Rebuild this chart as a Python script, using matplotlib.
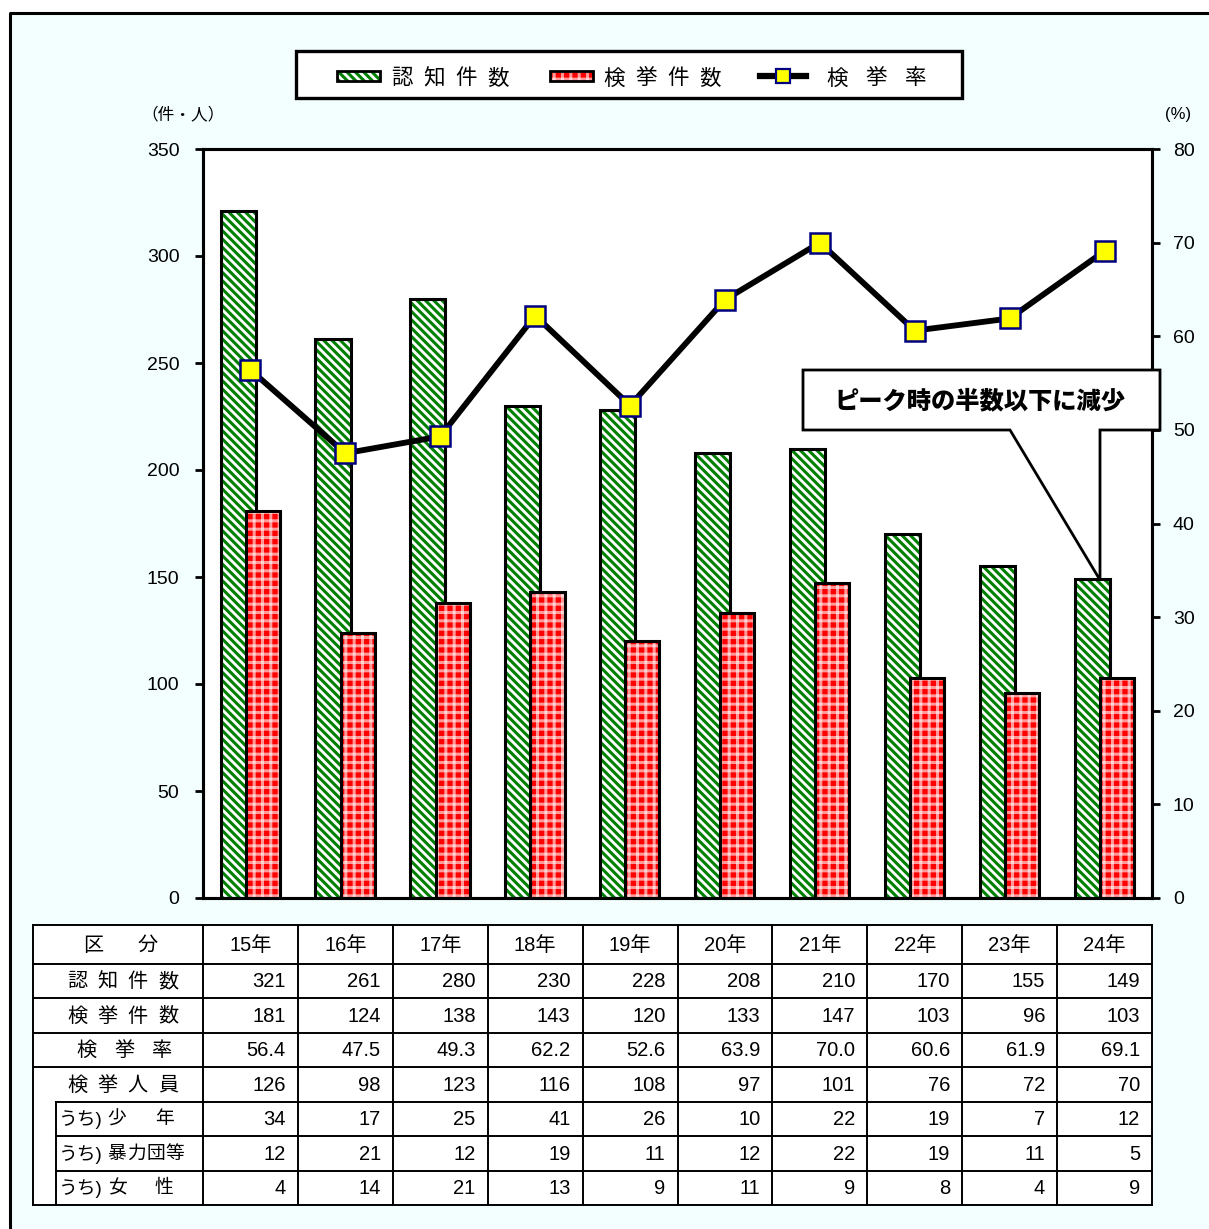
import matplotlib
matplotlib.use("Agg")
import matplotlib.pyplot as plt
from matplotlib.patches import Rectangle, Polygon
from matplotlib.lines import Line2D
import numpy as np

plt.rcParams['font.family'] = ['Liberation Sans', 'Noto Sans CJK JP', 'DejaVu Sans']
plt.rcParams['hatch.linewidth'] = 2.2

# ---------------- data ----------------
years = ["15年", "16年", "17年", "18年", "19年", "20年", "21年", "22年", "23年", "24年"]
ninchi = [321, 261, 280, 230, 228, 208, 210, 170, 155, 149]      # 認知件数
kenkyo = [181, 124, 138, 143, 120, 133, 147, 103, 96, 103]       # 検挙件数
ritsu = [56.4, 47.5, 49.3, 62.2, 52.6, 63.9, 70.0, 60.6, 61.9, 69.1]  # 検挙率
jinin = [126, 98, 123, 116, 108, 97, 101, 76, 72, 70]            # 検挙人員
shonen = [34, 17, 25, 41, 26, 10, 22, 19, 7, 12]                 # うち少年
boryoku = [12, 21, 12, 19, 11, 12, 22, 19, 11, 5]                # うち暴力団等
josei = [4, 14, 21, 13, 9, 11, 9, 8, 4, 9]                       # うち女性
left_ticks = [0, 50, 100, 150, 200, 250, 300, 350]
right_ticks = [0, 10, 20, 30, 40, 50, 60, 70, 80]

main_labels = ["認知件数", "検挙件数", "検挙率", "検挙人員"]
sub_labels = [("少", "年"), ("暴力団等", None), ("女", "性")]
row_values = [[str(v) for v in ninchi], [str(v) for v in kenkyo],
              [f"{v:.1f}" for v in ritsu], [str(v) for v in jinin],
              [str(v) for v in shonen], [str(v) for v in boryoku], [str(v) for v in josei]]

W, H = 1209, 1229
fig = plt.figure(figsize=(W / 100, H / 100), dpi=100, facecolor='white')

# background panel with border
bg = fig.add_axes([0, 0, 1, 1], zorder=0)
bg.set_xlim(0, W); bg.set_ylim(H, 0); bg.axis('off')
bg.add_patch(Rectangle((10, 13), W, H, facecolor='#F3FFFF', edgecolor='none'))
bg.plot([10, 10, W], [H, 13, 13], color='black', lw=2.2, solid_capstyle='projecting')


def gingham(add, **kw):
    """Red gingham fill: red base plus two semi-transparent white stripe hatches."""
    add(facecolor='#FF0000', edgecolor='none', linewidth=0, **kw)
    add(facecolor='none', edgecolor=(1, 1, 1, 0.6), hatch='||', linewidth=0, **kw)
    add(facecolor='none', edgecolor=(1, 1, 1, 0.6), hatch='--', linewidth=0, **kw)


# ---------------- chart ----------------
L, R, T, B = 203, 1152, 149, 898
ax = fig.add_axes([L / W, 1 - B / H, (R - L) / W, (B - T) / H], zorder=1)
ax.set_facecolor('white')
x = np.arange(len(years))
gw, rw = 0.37, 0.36
gx, rx = x - 0.13, x + 0.13

ax.bar(gx, ninchi, gw, color='white', edgecolor='#008000', hatch='\\\\\\\\', linewidth=0, zorder=2)
ax.bar(gx, ninchi, gw, fill=False, edgecolor='black', linewidth=2.2, zorder=3)
plt.rcParams['hatch.linewidth'] = 2.2
gingham(lambda **k: ax.bar(rx, kenkyo, rw, zorder=4, **k))
ax.bar(rx, kenkyo, rw, fill=False, edgecolor='black', linewidth=2.2, zorder=5)

ax.set_xlim(-0.5, len(years) - 0.5)
ax.set_ylim(0, 350)
ax.set_yticks(left_ticks)
ax.set_xticks([])
ax.tick_params(axis='y', direction='out', length=6, width=2, pad=11, labelsize=14)
for s in ax.spines.values():
    s.set_linewidth(2.2)

ax2 = ax.twinx()
ax2.set_zorder(2)
ax2.patch.set_visible(False)
ax2.plot(x, ritsu, color='black', lw=4.2, marker='s', markersize=15,
         markerfacecolor='#FFFF00', markeredgecolor='#000080', markeredgewidth=1.8, zorder=5)
ax2.set_ylim(0, 80)
ax2.set_yticks(right_ticks)
ax2.tick_params(axis='y', direction='out', length=6, width=2, pad=9, labelsize=14)
for s in ax2.spines.values():
    s.set_linewidth(2.2)

# ---------------- overlay: legend, labels, callout, table ----------------
ov = fig.add_axes([0, 0, 1, 1], zorder=3)
ov.set_xlim(0, W); ov.set_ylim(H, 0); ov.axis('off'); ov.patch.set_visible(False)


def spaced(text, x0, x1, y, size, **kw):
    """Place characters of text evenly, first char centered at x0, last at x1."""
    n = len(text)
    for k, ch in enumerate(text):
        xc = x0 if n == 1 else x0 + (x1 - x0) * k / (n - 1)
        ov.text(xc, y, ch, ha='center', va='center', fontsize=size, **kw)


ov.text(183, 114, "（件・人）", ha='center', va='center', fontsize=12)
ov.text(1178, 115, "(%)", ha='center', va='center', fontsize=12)

# legend
ov.add_patch(Rectangle((296, 51), 666, 47, facecolor='white', edgecolor='black', lw=2.4))
ov.add_patch(Rectangle((337, 71), 43, 10, facecolor='white', edgecolor='#008000', hatch='\\\\\\\\', lw=0))
ov.add_patch(Rectangle((337, 71), 43, 10, fill=False, edgecolor='black', lw=2))
spaced("認知件数", 402, 498, 79, 15.5)
gingham(lambda **k: ov.add_patch(Rectangle((550, 71), 43, 10, **k)))
ov.add_patch(Rectangle((550, 71), 43, 10, fill=False, edgecolor='black', lw=2))
spaced("検挙件数", 614, 710, 79, 15.5)
ov.add_line(Line2D([760, 806], [76, 76], color='black', lw=4.5))
ov.add_line(Line2D([783], [76], marker='s', markersize=10, markerfacecolor='#FFFF00',
                   markeredgecolor='#000080', markeredgewidth=1.6, lw=0))
spaced("検挙率", 837, 916, 79, 15.5)

# callout
callout = Polygon([(803, 370), (1160, 370), (1160, 430), (1100, 430), (1100, 580),
                   (1010, 430), (803, 430)], closed=True, facecolor='white',
                  edgecolor='black', lw=2)
ov.add_patch(callout)
ov.text(980, 401, "ピーク時の半数以下に減少", ha='center', va='center', fontsize=17.5,
        fontweight='heavy', family=['Noto Sans CJK JP', 'DejaVu Sans'])

# table
tl, tr = 33, 1152
col_w = (R - L) / len(years)
col_edges = [L + i * col_w for i in range(len(years) + 1)]
nrows = len(row_values)
row_edges = [925, 963.5] + [963.5 + 34.5 * (i + 1) for i in range(nrows)]
sub_x = 56
tab_lw = 1.4
ov.add_patch(Rectangle((tl, row_edges[0]), tr - tl, row_edges[-1] - row_edges[0],
                       facecolor='white', edgecolor='none'))
for i, y in enumerate(row_edges):
    x0 = sub_x if (5 <= i < len(row_edges) - 1) else tl
    ov.plot([x0, tr], [y, y], color='black', lw=tab_lw)
ov.plot([tl, tl], [row_edges[0], row_edges[-1]], color='black', lw=tab_lw)
for xe in col_edges:
    ov.plot([xe, xe], [row_edges[0], row_edges[-1]], color='black', lw=tab_lw)
ov.plot([sub_x, sub_x], [row_edges[5], row_edges[-1]], color='black', lw=tab_lw)

fs = 14.5
hy = (row_edges[0] + row_edges[1]) / 2 + 1
spaced("区分", 93, 148, hy, fs)
for j, yr in enumerate(years):
    ov.text((col_edges[j] + col_edges[j + 1]) / 2, hy, yr, ha='center', va='center', fontsize=fs)

label_spans = {4: (77, 168), 3: (86, 162)}
for i, lab in enumerate(main_labels):
    yc = (row_edges[i + 1] + row_edges[i + 2]) / 2 + 1
    x0, x1 = label_spans[len(lab)]
    spaced(lab, x0, x1, yc, fs)
for k, (a, b) in enumerate(sub_labels):
    yc = (row_edges[5 + k] + row_edges[6 + k]) / 2 + 1
    ov.text(sub_x + 3, yc, "うち)", ha='left', va='center', fontsize=13.5)
    if b is None:
        spaced(a, 117, 175, yc, 13.5)
    else:
        ov.text(117, yc, a, ha='center', va='center', fontsize=13.5)
        ov.text(164, yc, b, ha='center', va='center', fontsize=13.5)
for i, vals in enumerate(row_values):
    yc = (row_edges[i + 1] + row_edges[i + 2]) / 2 + 1
    for j, v in enumerate(vals):
        ov.text(col_edges[j + 1] - 12, yc, v, ha='right', va='center', fontsize=fs)

fig.savefig("out.png", dpi=100, facecolor='white')
